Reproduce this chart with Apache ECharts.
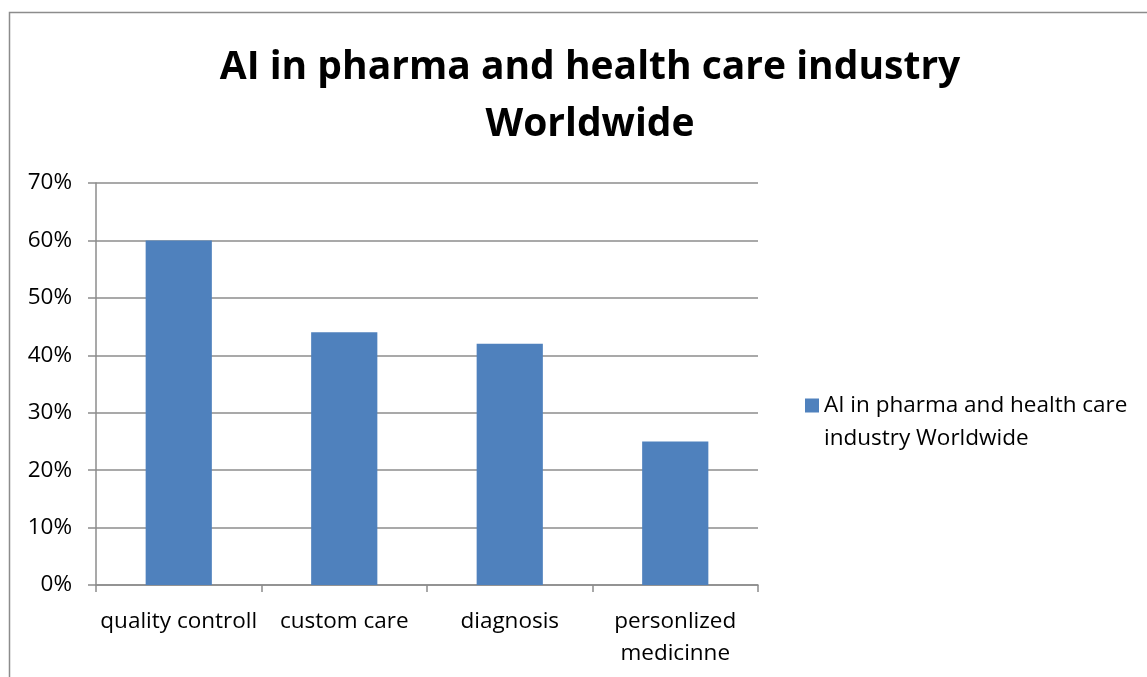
<!DOCTYPE html>
<html>
<head>
<meta charset="utf-8">
<script src="https://cdn.jsdelivr.net/npm/echarts@6/dist/echarts.min.js"></script>
<style>
html, body { margin: 0; padding: 0; background: #fff; }
#chart { width: 1147px; height: 677px; }
</style>
</head>
<body>
<div id="chart"></div>
<script>
// chart data
var categories = ["quality controll", "custom care", "diagnosis", "personlized\nmedicinne"];
var values = [0.60, 0.44, 0.42, 0.25];
var seriesName = "AI in pharma and health care industry Worldwide";
var titleText = "AI in pharma and health care industry\nWorldwide";

var chart = echarts.init(document.getElementById("chart"));
var fontFamily = "'Open Sans', 'Noto Sans', sans-serif";

var option = {
    backgroundColor: "#fff",
    animation: false,
    textStyle: { fontFamily: fontFamily },
    graphic: [
        {
            type: "rect",
            shape: { x: 9.5, y: 12.5, width: 1200, height: 700 },
            style: { fill: "none", stroke: "#8c8c8c", lineWidth: 1.5 },
            silent: true
        }
    ],
    title: {
        text: titleText,
        left: 585,
        textAlign: "center",
        top: 34,
        textStyle: {
            fontFamily: fontFamily,
            fontSize: 39,
            fontWeight: "bold",
            color: "#000",
            lineHeight: 57
        }
    },
    legend: {
        left: 800,
        top: 351,
        orient: "vertical",
        itemWidth: 14,
        itemHeight: 14,
        itemGap: 6,
        icon: "rect",
        data: [seriesName],
        // blank first line keeps the marker level with the first text line
        formatter: function(name) {
            return "\u00a0\nAI in pharma and health care\nindustry Worldwide";
        },
        textStyle: {
            fontFamily: fontFamily,
            fontSize: 22.5,
            color: "#000",
            lineHeight: 33
        }
    },
    grid: {
        left: 96,
        right: 389,
        top: 183,
        bottom: 92,
        containLabel: false
    },
    xAxis: {
        type: "category",
        data: categories,
        axisLine: { lineStyle: { color: "#8c8c8c", width: 1.5 } },
        axisTick: { show: true, length: 7, alignWithLabel: false, lineStyle: { color: "#8c8c8c", width: 1.5 } },
        axisLabel: {
            color: "#000",
            fontSize: 22.5,
            margin: 21,
            lineHeight: 32,
            interval: 0
        }
    },
    yAxis: {
        type: "value",
        min: 0,
        max: 0.7,
        interval: 0.1,
        axisLine: { show: true, lineStyle: { color: "#8c8c8c", width: 1.5 } },
        axisTick: { show: true, length: 8, lineStyle: { color: "#8c8c8c", width: 1.5 } },
        splitLine: { show: true, lineStyle: { color: "#8c8c8c", width: 1.5 } },
        axisLabel: {
            color: "#000",
            fontSize: 22.5,
            margin: 24,
            formatter: function(v) {
                return Math.round(v * 100) + "%";
            }
        }
    },
    series: [
        {
            name: seriesName,
            type: "bar",
            data: values,
            barWidth: "40%",
            itemStyle: { color: "#4f81bd" }
        }
    ]
};

chart.setOption(option);
</script>
</body>
</html>
